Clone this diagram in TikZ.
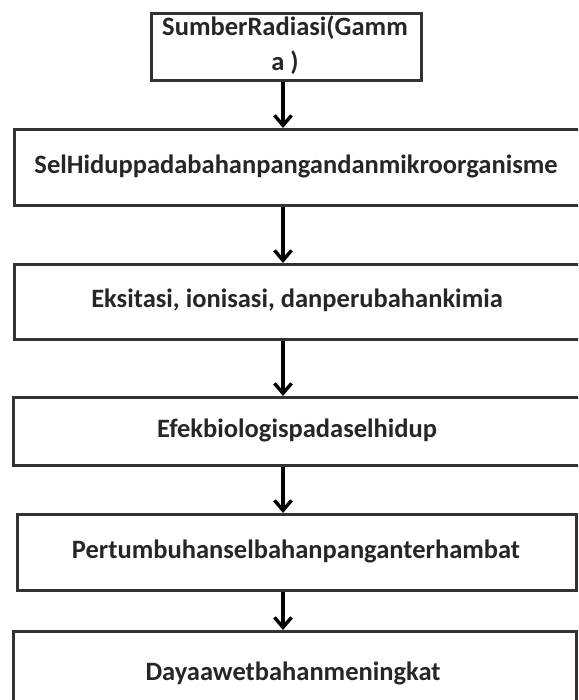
\documentclass[tikz,border=0pt]{standalone}
\usepackage{fontspec}
\setmainfont{Carlito}
\usetikzlibrary{arrows.meta}
\definecolor{boxline}{HTML}{333333}
\definecolor{txtcol}{HTML}{262626}
\tikzset{
  box/.style={draw=boxline, line width=3.2pt, rectangle, inner sep=0pt, anchor=north west},
  txt/.style={text=txtcol, font=\bfseries\fontsize{26.5}{35}\selectfont, inner sep=0pt, align=center},
  arr/.style={draw=black, line width=3.4pt, -{Straight Barb[length=10pt,width=17pt,line width=3.4pt]}}
}
\begin{document}
\begin{tikzpicture}[x=1pt,y=-1pt]
\useasboundingbox (0,0) rectangle (578,700);
\clip (0,0) rectangle (578,700);
\fill[white] (0,0) rectangle (578,700);
\node[box, minimum width=270pt, minimum height=67pt] (b1) at (150,12) {};
\node[box, minimum width=580pt, minimum height=76pt] (b2) at (13,128) {};
\node[box, minimum width=580pt, minimum height=75pt] (b3) at (13,263) {};
\node[box, minimum width=580pt, minimum height=68pt] (b4) at (12,396) {};
\node[box, minimum width=559pt, minimum height=76pt] (b5) at (16,513) {};
\node[box, minimum width=563pt, minimum height=86pt] (b6) at (12,630) {};
\node[txt] (t1) at (285,45.5) {SumberRadiasi(Gamm\\a )};
\node[txt] (t2) at (296,166) {SelHiduppadabahanpangandanmikroorganisme};
\node[txt] (t3) at (297,300.5) {Eksitasi, ionisasi, danperubahankimia};
\node[txt] (t4) at (297,430) {Efekbiologispadaselhidup};
\node[txt] (t5) at (296,551) {Pertumbuhanselbahanpanganterhambat};
\node[txt] (t6) at (293,673) {Dayaawetbahanmeningkat};
\coordinate (ax) at (283,0);
\draw[arr] (b1.south -| ax) -- (b2.north -| ax);
\draw[arr] (b2.south -| ax) -- (b3.north -| ax);
\draw[arr] (b3.south -| ax) -- (b4.north -| ax);
\draw[arr] (b4.south -| ax) -- (b5.north -| ax);
\draw[arr] (b5.south -| ax) -- (b6.north -| ax);
\end{tikzpicture}
\end{document}
